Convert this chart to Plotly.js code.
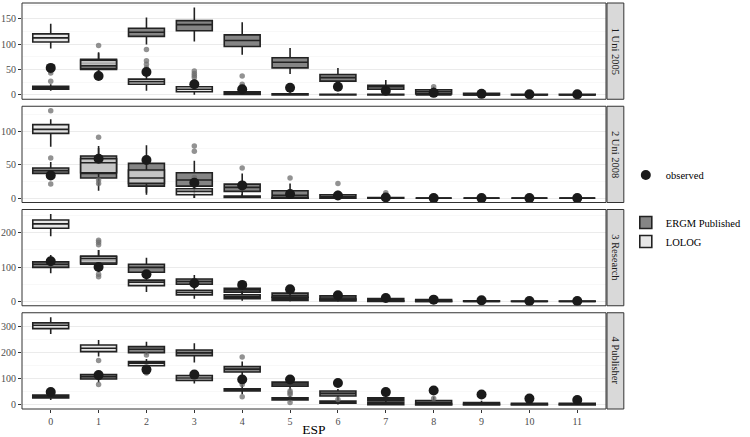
<!DOCTYPE html>
<html>
<head>
<meta charset="utf-8">
<script src="https://cdn.plot.ly/plotly-3.0.1.min.js"></script>
<style>html,body{margin:0;padding:0;background:#fff;}#chart{width:750px;height:437px;}</style>
</head>
<body>
<div id="chart"></div>
<script>
// ---------- DATA ----------
const esp = [0,1,2,3,4,5,6,7,8,9,10,11];
const facetLabels = ['1 Uni 2005','2 Uni 2008','3 Research','4 Publisher'];
const modelNames = ['ERGM Published','LOLOG'];

// Panel 1: Uni 2005
const uni05_ergm_q1  = [11, 50, 115, 126, 95, 53, 27, 11, 2, 0, 0, 0];
const uni05_ergm_med = [14, 62, 123, 138,107, 64, 34, 16, 6, 2, 1, 0];
const uni05_ergm_q3  = [17, 70, 131, 146,118, 73, 40, 19,10, 3, 1, 1];
const uni05_ergm_lo  = [ 8, 32,  99, 105, 79, 41, 17,  4, 0, 0, 0, 0];
const uni05_ergm_hi  = [21, 84, 152, 172,143, 92, 53, 29,16, 6, 2, 2];
const uni05_lolog_q1  = [104, 52, 21,  6, 1, 0, 0, 0, 0, 0, 0, 0];
const uni05_lolog_med = [112, 57, 26, 11, 3, 1, 0, 0, 0, 0, 0, 0];
const uni05_lolog_q3  = [120, 68, 31, 16, 6, 2, 1, 1, 0, 0, 0, 0];
const uni05_lolog_lo  = [ 91, 35,  8,  0, 0, 0, 0, 0, 0, 0, 0, 0];
const uni05_lolog_hi  = [140, 82, 45, 30,12, 5, 3, 2, 1, 1, 0, 0];
const uni05_out_x = [0, 0, 0, 1, 2, 2, 2, 2, 3, 3, 3, 3, 4, 4, 8];
const uni05_out_y = [27,43,47,97,89,53,60,67,34,38,42,47,21,37,16];
const uni05_obs = [53, 37, 45, 21, 11, 14, 16, 8, 4, 2, 1, 1];

// Panel 2: Uni 2008
const uni08_ergm_q1  = [37, 30, 18, 18, 10, 0, 0, 0, 0, 0, 0, 0];
const uni08_ergm_med = [41, 37, 41, 27, 16, 4, 2, 0, 0, 0, 0, 0];
const uni08_ergm_q3  = [45, 63, 52, 38, 21,11, 5, 1, 0, 0, 0, 0];
const uni08_ergm_lo  = [29, 11,  5,  0,  0, 0, 0, 0, 0, 0, 0, 0];
const uni08_ergm_hi  = [54, 78, 79, 56, 37,22,11, 3, 1, 1, 1, 1];
const uni08_lolog_q1  = [ 97, 38, 22,  5, 1, 0, 0, 0, 0, 0, 0, 0];
const uni08_lolog_med = [103, 53, 30, 10, 2, 0, 0, 0, 0, 0, 0, 0];
const uni08_lolog_q3  = [110, 59, 42, 14, 3, 1, 0, 0, 0, 0, 0, 0];
const uni08_lolog_lo  = [ 77, 20,  8,  0, 0, 0, 0, 0, 0, 0, 0, 0];
const uni08_lolog_hi  = [118, 75, 60, 25, 6, 2, 1, 0, 0, 0, 0, 0];
const uni08_out_x = [0, 0, 0, 1, 1, 1, 3, 3, 3, 4, 5, 6, 7];
const uni08_out_y = [131,60,21,91,27,22,70,78,31,45,30,22,8];
const uni08_obs = [34, 59, 57, 23, 19, 6, 4, 1, 0, 0, 0, 0];

// Panel 3: Research
const res_ergm_q1  = [ 99,108, 85, 50, 27, 12, 4, 1, 0, 0, 0, 0];
const res_ergm_med = [108,120, 99, 58, 33, 17,10, 4, 2, 1, 0, 0];
const res_ergm_q3  = [115,130,108, 65, 38, 24,16, 8, 5, 2, 1, 1];
const res_ergm_lo  = [ 82, 85, 65, 38, 17,  2, 0, 0, 0, 0, 0, 0];
const res_ergm_hi  = [135,150,127, 77, 55, 36,24,14, 9, 4, 2, 2];
const res_lolog_q1  = [213,112, 46, 19,  8, 3, 1, 0, 0, 0, 0, 0];
const res_lolog_med = [226,125, 56, 26, 13, 8, 4, 1, 0, 0, 0, 0];
const res_lolog_q3  = [237,132, 62, 32, 19,12, 7, 2, 1, 0, 0, 0];
const res_lolog_lo  = [190, 95, 27,  8,  2, 0, 0, 0, 0, 0, 0, 0];
const res_lolog_hi  = [255,150, 78, 45, 30,22,12, 5, 2, 1, 0, 0];
const res_out_x = [1, 1, 1, 1, 1];
const res_out_y = [165,172,178,72,79];
const res_obs = [117, 100, 79, 53, 48, 35, 18, 10, 5, 3, 1, 1];

// Panel 4: Publisher
const pub_ergm_q1  = [26, 98,199,187,125, 71, 33, 14, 0, 0, 0, 0];
const pub_ergm_med = [32,107,212,198,136, 79, 43, 20, 8, 3, 1, 1];
const pub_ergm_q3  = [37,115,222,209,146, 86, 52, 26,16, 8, 5, 5];
const pub_ergm_lo  = [18, 85,192,161,105, 55, 15,  2, 0, 0, 0, 0];
const pub_ergm_hi  = [45,125,241,235,165,100, 60, 40,30,15, 8, 8];
const pub_lolog_q1  = [291,203,149, 93, 52, 18, 5, 0, 0, 0, 0, 0];
const pub_lolog_med = [304,216,159,102, 55, 23,10, 4, 2, 0, 0, 0];
const pub_lolog_q3  = [313,228,165,111, 61, 26,14, 8, 4, 2, 1, 1];
const pub_lolog_lo  = [270,184,130, 81, 40, 12, 0, 0, 0, 0, 0, 0];
const pub_lolog_hi  = [335,247,175,125, 75, 35,25,12, 8, 4, 2, 2];
const pub_out_x = [1, 1, 2, 2, 4, 4, 4, 5, 5, 5, 5, 6, 8];
const pub_out_y = [169,77,190,121,182,30,77,39,45,52,8,20,23];
const pub_obs = [48, 113, 134, 115, 96, 96, 83, 48, 54, 39, 23, 18];

// y-axis tick labels per panel
const yTicks = [[0,50,100,150],[0,50,100],[0,100,200],[0,100,200,300]];
const yRanges = [[-8.6,180.6],[-6.6,137.6],[-12.75,267.75],[-16.75,351.75]];

// ---------- BUILD ----------
const panels = [
  {e:[uni05_ergm_q1,uni05_ergm_med,uni05_ergm_q3,uni05_ergm_lo,uni05_ergm_hi],
   l:[uni05_lolog_q1,uni05_lolog_med,uni05_lolog_q3,uni05_lolog_lo,uni05_lolog_hi],
   ox:uni05_out_x, oy:uni05_out_y, obs:uni05_obs},
  {e:[uni08_ergm_q1,uni08_ergm_med,uni08_ergm_q3,uni08_ergm_lo,uni08_ergm_hi],
   l:[uni08_lolog_q1,uni08_lolog_med,uni08_lolog_q3,uni08_lolog_lo,uni08_lolog_hi],
   ox:uni08_out_x, oy:uni08_out_y, obs:uni08_obs},
  {e:[res_ergm_q1,res_ergm_med,res_ergm_q3,res_ergm_lo,res_ergm_hi],
   l:[res_lolog_q1,res_lolog_med,res_lolog_q3,res_lolog_lo,res_lolog_hi],
   ox:res_out_x, oy:res_out_y, obs:res_obs},
  {e:[pub_ergm_q1,pub_ergm_med,pub_ergm_q3,pub_ergm_lo,pub_ergm_hi],
   l:[pub_lolog_q1,pub_lolog_med,pub_lolog_q3,pub_lolog_lo,pub_lolog_hi],
   ox:pub_out_x, oy:pub_out_y, obs:pub_obs}
];

const W = 750, Hh = 437, mt = 3, mb = 28, ml = 22, mr = 138;
const ph = Hh - mt - mb;            // 406
const gap = 7;
const panelH = (ph - 3*gap) / 4;
function dom(k){
  const topPx = k*(panelH+gap);
  const botPx = topPx + panelH;
  return [1 - botPx/ph, 1 - topPx/ph];
}

const SERIF = 'Liberation Serif, Times New Roman, serif';
const fills = ['#858585','rgba(222,222,222,0.72)'];
const traces = [];
const layout = {
  width: W, height: Hh,
  margin: {l: ml, r: mr, t: mt, b: mb},
  paper_bgcolor: '#ffffff', plot_bgcolor: '#ffffff',
  boxmode: 'overlay',
  showlegend: true,
  font: {family: SERIF, color: '#1a1a1a'},
  shapes: [], annotations: [],
  legend: {x: (632-ml)/590, xanchor: 'left', y: 1-(175-mt)/ph, yanchor: 'middle',
           font: {family: SERIF, size: 10.5, color: '#000'}, bgcolor: 'rgba(0,0,0,0)', tracegroupgap: 0},
  legend2: {x: (632-ml)/590, xanchor: 'left', y: 1-(232-mt)/ph, yanchor: 'middle',
           font: {family: SERIF, size: 10.5, color: '#000'}, bgcolor: 'rgba(0,0,0,0)', tracegroupgap: 0}
};

panels.forEach((p, k) => {
  const xa = k === 0 ? 'x' : 'x' + (k+1);
  const ya = k === 0 ? 'y' : 'y' + (k+1);
  const xKey = k === 0 ? 'xaxis' : 'xaxis' + (k+1);
  const yKey = k === 0 ? 'yaxis' : 'yaxis' + (k+1);
  const d = dom(k);
  const isBottom = k === 3;
  layout[xKey] = {
    domain: [0,1], anchor: ya, range: [-0.6, 11.6],
    tickmode: 'array', tickvals: esp, ticktext: esp.map(String),
    showticklabels: isBottom, ticks: isBottom ? 'outside' : '', ticklen: 3, tickcolor: '#333333',
    showgrid: false, zeroline: false, showline: false,
    tickfont: {family: SERIF, size: 10, color: '#4d4d4d'}, fixedrange: true
  };
  if (isBottom) layout[xKey].title = {text: 'ESP', font: {family: SERIF, size: 13.5, color: '#000'}, standoff: 2};
  const yt = yTicks[k];
  const step = yt[1]-yt[0];
  layout[yKey] = {
    domain: d, anchor: xa, range: yRanges[k],
    tickmode: 'array', tickvals: yt, ticktext: yt.map(String),
    ticks: 'outside', ticklen: 3, tickcolor: '#333333',
    showgrid: true, gridcolor: '#ebebeb', gridwidth: 1,
    minor: {tickmode: 'linear', tick0: step/2, dtick: step, showgrid: true, gridcolor: '#f3f3f3', gridwidth: 0.6, ticks: ''},
    zeroline: false, showline: false,
    tickfont: {family: SERIF, size: 10, color: '#4d4d4d'}, fixedrange: true
  };
  layout.shapes.push({type: 'rect', xref: 'paper', yref: 'paper', x0: 0, x1: 1, y0: d[0], y1: d[1],
    line: {color: '#333333', width: 1}, fillcolor: 'rgba(0,0,0,0)', layer: 'above'});
  const sx0 = 1 + 1/590, sx1 = 1 + 18/590;
  layout.shapes.push({type: 'rect', xref: 'paper', yref: 'paper', x0: sx0, x1: sx1, y0: d[0], y1: d[1],
    line: {color: '#333333', width: 1}, fillcolor: '#d9d9d9', layer: 'above'});
  layout.annotations.push({xref: 'paper', yref: 'paper', x: (sx0+sx1)/2, y: (d[0]+d[1])/2,
    text: facetLabels[k], textangle: 90, showarrow: false,
    font: {family: SERIF, size: 10.5, color: '#1a1a1a'}, xanchor: 'center', yanchor: 'middle'});

  [p.e, p.l].forEach((s, m) => {
    traces.push({
      type: 'box', x: esp, q1: s[0], median: s[1], q3: s[2], lowerfence: s[3], upperfence: s[4],
      xaxis: xa, yaxis: ya, width: 0.75, whiskerwidth: 0,
      fillcolor: fills[m], line: {color: '#222222', width: 1.6},
      name: modelNames[m], legendgroup: modelNames[m], legend: 'legend2',
      showlegend: k === 0, hoverinfo: 'skip', boxpoints: false
    });
  });
  traces.push({
    type: 'scatter', mode: 'markers', x: p.ox, y: p.oy, xaxis: xa, yaxis: ya,
    marker: {color: 'rgba(110,110,110,0.75)', size: 5.5}, showlegend: false, hoverinfo: 'skip'
  });
  traces.push({
    type: 'scatter', mode: 'markers', x: esp, y: p.obs, xaxis: xa, yaxis: ya,
    marker: {color: '#1a1a1a', size: 10}, name: 'observed', legendgroup: 'observed',
    legend: 'legend', showlegend: k === 0, hoverinfo: 'skip'
  });
});

Plotly.newPlot('chart', traces, layout, {staticPlot: true, displayModeBar: false});
</script>
</body>
</html>
